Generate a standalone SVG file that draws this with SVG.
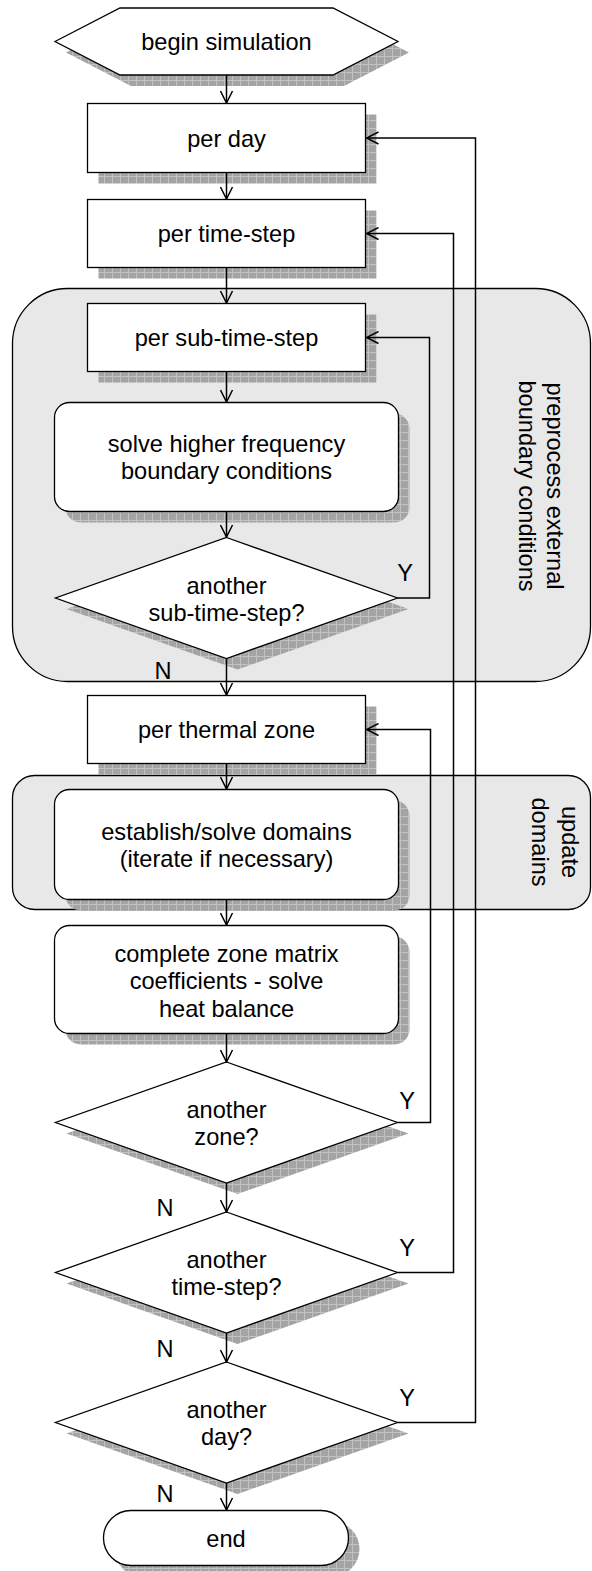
<svg xmlns="http://www.w3.org/2000/svg" width="592" height="1571" viewBox="0 0 592 1571">
<defs>
<pattern id="hatch" width="8" height="8" patternUnits="userSpaceOnUse">
<rect width="8" height="8" fill="#a4a4a4"/>
<path d="M0.5,0 V8 M0,0.5 H8" stroke="#c2c2c2" stroke-width="1"/>
</pattern>
<marker id="arr" markerUnits="userSpaceOnUse" markerWidth="14" markerHeight="14" viewBox="0 0 14 14" refX="13" refY="7" orient="auto">
<path d="M1,1 L13,7 L1,13" fill="none" stroke="#000" stroke-width="1.5"/>
</marker>
</defs>
<style>
.node{fill:#fff;stroke:#000;stroke-width:1.3}
.shadow{fill:url(#hatch);stroke:none}
.region{fill:#e8e8e8;stroke:#000;stroke-width:1.3}
.lbl{font-family:"Liberation Sans",Arial,sans-serif;font-size:23.6px;text-anchor:middle;fill:#000}
.conn{fill:none;stroke:#000;stroke-width:1.5}
.arrow{marker-end:url(#arr)}
</style>
<rect width="592" height="1571" fill="#fff"/>

<g id="region-preprocess">
<rect class="region" x="12.5" y="288.5" width="578" height="393" rx="55"/>
<text class="lbl" transform="translate(555,486) rotate(90)" y="8.4">preprocess external</text>
<text class="lbl" transform="translate(527,486) rotate(90)" y="8.4">boundary conditions</text>
</g>
<g id="region-update">
<rect class="region" x="12.5" y="775.5" width="578" height="134" rx="22"/>
<text class="lbl" transform="translate(570,842) rotate(90)" y="8.4">update</text>
<text class="lbl" transform="translate(540,842) rotate(90)" y="8.4">domains</text>
</g>

<g id="begin">
<polygon class="shadow" points="66,52.5 131,19 344,19 409,52.5 344,86 131,86"/>
<polygon class="node" points="55,41.5 120,8 333,8 398,41.5 333,75 120,75"/>
<text class="lbl" x="226.5" y="49.5">begin simulation</text>
</g>
<g id="per-day">
<rect class="shadow" x="98.5" y="114.5" width="278" height="69"/>
<rect class="node" x="87.5" y="103.5" width="278" height="69"/>
<text class="lbl" x="226.5" y="146.5">per day</text>
</g>
<g id="per-time-step">
<rect class="shadow" x="98.5" y="210.5" width="278" height="68"/>
<rect class="node" x="87.5" y="199.5" width="278" height="68"/>
<text class="lbl" x="226.5" y="242">per time-step</text>
</g>
<g id="per-sub-time-step">
<rect class="shadow" x="98.5" y="314.5" width="278" height="68"/>
<rect class="node" x="87.5" y="303.5" width="278" height="68"/>
<text class="lbl" x="226.5" y="346">per sub-time-step</text>
</g>
<g id="solve-hf">
<rect class="shadow" x="65.5" y="413.5" width="344" height="109" rx="15"/>
<rect class="node" x="54.5" y="402.5" width="344" height="109" rx="15"/>
<text class="lbl" x="226.5" y="451.5">solve higher frequency</text>
<text class="lbl" x="226.5" y="479">boundary conditions</text>
</g>
<g id="another-sub">
<polygon class="shadow" points="237.5,548.5 408.5,609 237.5,669.5 66.5,609"/>
<polygon class="node" points="226.5,537.5 397.5,598 226.5,658.5 55.5,598"/>
<text class="lbl" x="226.5" y="594">another</text>
<text class="lbl" x="226.5" y="621">sub-time-step?</text>
</g>
<g id="per-thermal-zone">
<rect class="shadow" x="98.5" y="706.5" width="278" height="68"/>
<rect class="node" x="87.5" y="695.5" width="278" height="68"/>
<text class="lbl" x="226.5" y="738">per thermal zone</text>
</g>
<g id="establish">
<rect class="shadow" x="65.5" y="800.5" width="344" height="110" rx="15"/>
<rect class="node" x="54.5" y="789.5" width="344" height="110" rx="15"/>
<text class="lbl" x="226.5" y="839.5">establish/solve domains</text>
<text class="lbl" x="226.5" y="867">(iterate if necessary)</text>
</g>
<g id="complete">
<rect class="shadow" x="65.5" y="936.5" width="344" height="108" rx="15"/>
<rect class="node" x="54.5" y="925.5" width="344" height="108" rx="15"/>
<text class="lbl" x="226.5" y="961.5">complete zone matrix</text>
<text class="lbl" x="226.5" y="989">coefficients - solve</text>
<text class="lbl" x="226.5" y="1016.5">heat balance</text>
</g>
<g id="another-zone">
<polygon class="shadow" points="237.5,1073 408.5,1133.5 237.5,1194 66.5,1133.5"/>
<polygon class="node" points="226.5,1062 397.5,1122.5 226.5,1183 55.5,1122.5"/>
<text class="lbl" x="226.5" y="1117.5">another</text>
<text class="lbl" x="226.5" y="1145">zone?</text>
</g>
<g id="another-time-step">
<polygon class="shadow" points="237.5,1223 408.5,1283.5 237.5,1344 66.5,1283.5"/>
<polygon class="node" points="226.5,1212 397.5,1272.5 226.5,1333 55.5,1272.5"/>
<text class="lbl" x="226.5" y="1267.5">another</text>
<text class="lbl" x="226.5" y="1295">time-step?</text>
</g>
<g id="another-day">
<polygon class="shadow" points="237.5,1373 408.5,1433.5 237.5,1494 66.5,1433.5"/>
<polygon class="node" points="226.5,1362 397.5,1422.5 226.5,1483 55.5,1422.5"/>
<text class="lbl" x="226.5" y="1417.5">another</text>
<text class="lbl" x="226.5" y="1445">day?</text>
</g>
<g id="end">
<rect class="shadow" x="114.5" y="1521.5" width="245" height="55" rx="27.5"/>
<rect class="node" x="103.5" y="1510.5" width="245" height="55" rx="27.5"/>
<text class="lbl" x="226" y="1546.5">end</text>
</g>

<g id="connectors">
<path class="conn arrow" d="M226.5,75 V103"/>
<path class="conn arrow" d="M226.5,172.5 V199"/>
<path class="conn arrow" d="M226.5,267.5 V303"/>
<path class="conn arrow" d="M226.5,371.5 V402"/>
<path class="conn arrow" d="M226.5,511.5 V537"/>
<path class="conn arrow" d="M226.5,658.5 V695"/>
<path class="conn arrow" d="M226.5,763.5 V789"/>
<path class="conn arrow" d="M226.5,899.5 V925"/>
<path class="conn arrow" d="M226.5,1033.5 V1062"/>
<path class="conn arrow" d="M226.5,1183 V1212"/>
<path class="conn arrow" d="M226.5,1333 V1362"/>
<path class="conn arrow" d="M226.5,1483 V1510"/>
<path class="conn arrow" d="M397.5,598 H429.5 V337.5 H366.5"/>
<path class="conn arrow" d="M397.5,1122.5 H430.5 V729.5 H366.5"/>
<path class="conn arrow" d="M397.5,1272.5 H453.5 V233.5 H366.5"/>
<path class="conn arrow" d="M397.5,1422.5 H475.5 V138 H366.5"/>
<text class="lbl" x="405" y="580.5">Y</text>
<text class="lbl" x="163" y="678.5">N</text>
<text class="lbl" x="407" y="1108.5">Y</text>
<text class="lbl" x="165" y="1215.5">N</text>
<text class="lbl" x="407" y="1255.5">Y</text>
<text class="lbl" x="165" y="1356.5">N</text>
<text class="lbl" x="407" y="1405.5">Y</text>
<text class="lbl" x="165" y="1501.5">N</text>
</g>
</svg>
